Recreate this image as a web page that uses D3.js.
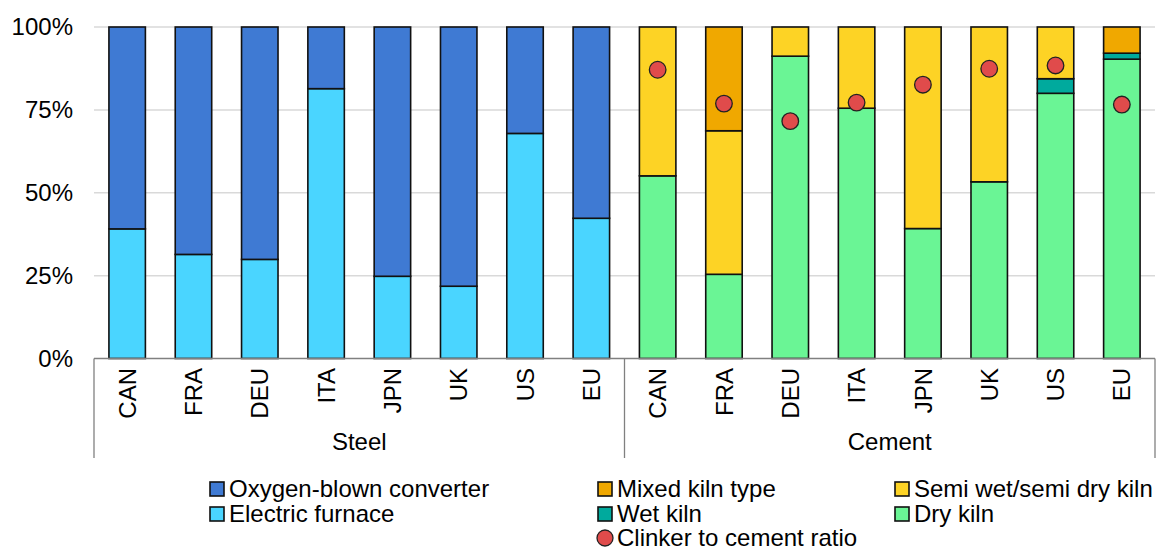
<!DOCTYPE html>
<html>
<head>
<meta charset="utf-8">
<script src="https://cdn.jsdelivr.net/npm/d3@7"></script>
<style>
  html, body { margin: 0; padding: 0; background: #fff; }
  svg { display: block; font-family: "Liberation Sans", Arial, sans-serif; }
</style>
</head>
<body>
<svg id="chart" width="1161" height="547"></svg>
<script>
// ---- Data ----
const categories = ["CAN", "FRA", "DEU", "ITA", "JPN", "UK", "US", "EU"];
const groups = ["Steel", "Cement"];
const steelElectric = [39.1, 31.4, 29.9, 81.4, 24.8, 21.8, 67.9, 42.3];
const steelOxygen   = [60.9, 68.6, 70.1, 18.6, 75.2, 78.2, 32.1, 57.7];
const cementDry   = [55.1, 25.4, 91.2, 75.5, 39.2, 53.3, 80.0, 90.3];
const cementWet   = [0, 0, 0, 0, 0, 0, 4.4, 1.8];
const cementSemi  = [44.9, 43.3, 8.8, 24.5, 60.8, 46.7, 15.6, 0];
const cementMixed = [0, 31.3, 0, 0, 0, 0, 0, 7.9];
const clinkerRatio = [87.1, 76.9, 71.6, 77.2, 82.6, 87.4, 88.4, 76.6];
const yTicks = [0, 25, 50, 75, 100];

const seriesNames = {
  electric: "Electric furnace", oxygen: "Oxygen-blown converter",
  dry: "Dry kiln", wet: "Wet kiln", semi: "Semi wet/semi dry kiln", mixed: "Mixed kiln type",
  clinker: "Clinker to cement ratio"
};
const colors = {
  oxygen: "#3F7AD3", electric: "#4AD5FF",
  mixed: "#F0A800", semi: "#FDD325", wet: "#00AA9D", dry: "#6AF595",
  clinker: "#E04B4B"
};

// ---- Build rows ----
const rows = [];
categories.forEach((c, i) => rows.push({ key: "Steel|" + c, group: "Steel", cat: c,
  electric: steelElectric[i], oxygen: steelOxygen[i], dry: 0, wet: 0, semi: 0, mixed: 0, clinker: null }));
categories.forEach((c, i) => rows.push({ key: "Cement|" + c, group: "Cement", cat: c,
  electric: 0, oxygen: 0, dry: cementDry[i], wet: cementWet[i], semi: cementSemi[i], mixed: cementMixed[i],
  clinker: clinkerRatio[i] }));

const svg = d3.select("#chart");
const plotLeft = 94, plotRight = 1155, plotTop = 27, plotBottom = 358.5;

const x = d3.scaleBand().domain(rows.map(r => r.key)).range([plotLeft, plotRight])
  .paddingInner(0.45).paddingOuter(0.225);
const y = d3.scaleLinear().domain([0, 100]).range([plotBottom, plotTop]);

// gridlines
svg.append("g").selectAll("line").data(yTicks.filter(t => t > 0)).join("line")
  .attr("x1", plotLeft).attr("x2", plotRight)
  .attr("y1", d => y(d)).attr("y2", d => y(d))
  .attr("stroke", "#d9d9d9").attr("stroke-width", 1.5);

// y axis labels
const yAxis = d3.axisLeft(y).tickValues(yTicks).tickFormat(d => d + "%").tickSize(0).tickPadding(0);
const yg = svg.append("g").attr("transform", `translate(${plotLeft - 21},0)`).call(yAxis);
yg.select(".domain").remove();
yg.selectAll("text").attr("font-size", 24).attr("fill", "#000")
  .attr("font-family", "'Liberation Sans', Arial, sans-serif");

// stacked bars
const keys = ["electric", "oxygen", "dry", "wet", "semi", "mixed"];
const stacked = d3.stack().keys(keys)(rows);
const barG = svg.append("g");
stacked.forEach(layer => {
  barG.append("g").selectAll("rect")
    .data(layer.filter(d => d[1] - d[0] > 0))
    .join("rect")
    .attr("x", d => x(d.data.key))
    .attr("width", x.bandwidth())
    .attr("y", d => y(d[1]))
    .attr("height", d => y(d[0]) - y(d[1]))
    .attr("fill", colors[layer.key])
    .attr("stroke", "#111").attr("stroke-width", 1.6);
});

// clinker dots
svg.append("g").selectAll("circle")
  .data(rows.filter(r => r.clinker != null)).join("circle")
  .attr("cx", d => x(d.key) + x.bandwidth() / 2)
  .attr("cy", d => y(d.clinker))
  .attr("r", 8.3)
  .attr("fill", colors.clinker).attr("stroke", "#222").attr("stroke-width", 1.3);

// category axis
const axisColor = "#808080";
svg.append("line").attr("x1", plotLeft).attr("x2", plotRight).attr("y1", plotBottom).attr("y2", plotBottom)
  .attr("stroke", axisColor).attr("stroke-width", 1.3);
const sepXs = [plotLeft, x(rows[8].key) - x.step() * x.paddingInner() / 2, plotRight];
svg.append("g").selectAll("line").data(sepXs).join("line")
  .attr("x1", d => d).attr("x2", d => d).attr("y1", plotBottom).attr("y2", 458)
  .attr("stroke", axisColor).attr("stroke-width", 1.3);

svg.append("g").selectAll("text").data(rows).join("text")
  .attr("transform", d => `translate(${x(d.key) + x.bandwidth() / 2},368) rotate(-90)`)
  .attr("text-anchor", "end").attr("dy", "0.36em")
  .attr("font-size", 24).attr("fill", "#000")
  .text(d => d.cat);

svg.append("g").selectAll("text").data(groups).join("text")
  .attr("x", (g, i) => (sepXs[i] + sepXs[i + 1]) / 2)
  .attr("y", 450)
  .attr("text-anchor", "middle").attr("font-size", 24).attr("fill", "#000")
  .text(g => g);

// legend
const legendItems = [
  { k: "oxygen", x: 210, y: 489 }, { k: "electric", x: 210, y: 514 },
  { k: "mixed", x: 598, y: 489 }, { k: "wet", x: 598, y: 514 }, { k: "clinker", x: 598, y: 538, circle: true },
  { k: "semi", x: 895, y: 489 }, { k: "dry", x: 895, y: 514 }
];
const lg = svg.append("g");
legendItems.forEach(it => {
  if (it.circle) {
    lg.append("circle").attr("cx", it.x + 7).attr("cy", it.y).attr("r", 8)
      .attr("fill", colors[it.k]).attr("stroke", "#222").attr("stroke-width", 1.3);
  } else {
    lg.append("rect").attr("x", it.x).attr("y", it.y - 7).attr("width", 14).attr("height", 14)
      .attr("fill", colors[it.k]).attr("stroke", "#111").attr("stroke-width", 1.6);
  }
  lg.append("text").attr("x", it.x + 19).attr("y", it.y).attr("dy", "0.35em")
    .attr("font-size", 24).attr("fill", "#000").text(seriesNames[it.k]);
});
</script>
</body>
</html>
